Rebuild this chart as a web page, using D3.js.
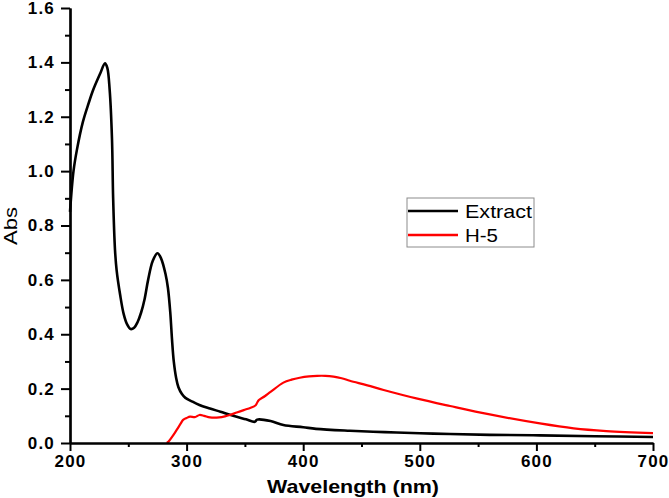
<!DOCTYPE html>
<html>
<head>
<meta charset="utf-8">
<script src="https://cdn.jsdelivr.net/npm/d3@7"></script>
<style>
  body { margin: 0; background: #fff; }
  svg { display: block; }
  text { font-family: "Liberation Sans", Arial, sans-serif; }
</style>
</head>
<body>
<svg id="chart" width="669" height="498"></svg>
<script>
// ---- data ----
const extractWavelength = [200,203,206,211,216,220,226,230,232,234,236,237,238.6,240,243,246,249,252,255,258,261,264,267,271,275,278,282,284,286,287.5,289,291,293,296,299,305,311,320,329,340,351,358.5,360.5,372,383,400,411,440,470,500,526,560,603,650,700];
const extractAbs = [0.85,1.0,1.08,1.18,1.25,1.30,1.36,1.397,1.38,1.30,1.12,0.90,0.71,0.635,0.545,0.475,0.436,0.419,0.424,0.445,0.48,0.53,0.60,0.67,0.698,0.68,0.62,0.57,0.48,0.38,0.30,0.24,0.205,0.18,0.166,0.152,0.14,0.127,0.115,0.10,0.087,0.078,0.086,0.081,0.066,0.058,0.052,0.045,0.040,0.036,0.033,0.030,0.028,0.025,0.022];
const h5Wavelength = [283,284.5,288,291.5,295,297,300,303,307,311,315,320,328,333,337,343,349,355,359,360.5,362,367,372,383,390,397,405,412,419,426,433,440,455,469,497,526,560,603,632,660,700];
const h5Abs = [0,0.005,0.025,0.048,0.072,0.085,0.092,0.097,0.095,0.103,0.10,0.094,0.094,0.098,0.103,0.112,0.121,0.13,0.138,0.148,0.158,0.172,0.188,0.222,0.233,0.240,0.245,0.247,0.247,0.244,0.238,0.229,0.212,0.195,0.164,0.136,0.105,0.072,0.054,0.044,0.036];
const seriesNames = ["Extract", "H-5"];
const seriesColors = ["#000000", "#ff0000"];
const xMajorTicks = [200,300,400,500,600,700];
const xMinorTicks = [250,350,450,550,650];
const yMajorTicks = [0,0.2,0.4,0.6,0.8,1.0,1.2,1.4,1.6];
const yMinorTicks = [0.1,0.3,0.5,0.7,0.9,1.1,1.3,1.5];
const xTitle = "Wavelength (nm)";
const yTitle = "Abs";

// ---- layout ----
const svg = d3.select("#chart");
const plotLeft = 70, plotRight = 653, plotTop = 8, plotBottom = 443;
const x = d3.scaleLinear().domain([200, 700]).range([plotLeft, plotRight]);
const y = d3.scaleLinear().domain([0, 1.6]).range([plotBottom, plotTop]);

const series = [
  extractWavelength.map((w, i) => [w, extractAbs[i]]),
  h5Wavelength.map((w, i) => [w, h5Abs[i]])
];

// curves
const line = d3.line().x(d => x(d[0])).y(d => y(d[1])).curve(d3.curveCatmullRom.alpha(0.5));
svg.selectAll("path.series").data(series).enter().append("path")
  .attr("class", "series")
  .attr("d", line)
  .attr("fill", "none")
  .attr("stroke", (d, i) => seriesColors[i])
  .attr("stroke-width", (d, i) => i === 0 ? 2.6 : 2.2)
  .attr("stroke-linejoin", "round");

// axes
const fmt = d3.format(".1f");
const gx = svg.append("g").attr("transform", `translate(0,${plotBottom})`)
  .call(d3.axisBottom(x).tickValues(xMajorTicks).tickSize(8).tickSizeOuter(0).tickPadding(4).tickFormat(d3.format("d")));
const gxm = svg.append("g").attr("transform", `translate(0,${plotBottom})`)
  .call(d3.axisBottom(x).tickValues(xMinorTicks).tickSize(4).tickSizeOuter(0).tickFormat(""));
const gy = svg.append("g").attr("transform", `translate(${plotLeft},0)`)
  .call(d3.axisLeft(y).tickValues(yMajorTicks).tickSize(9).tickSizeOuter(0).tickPadding(6).tickFormat(fmt));
const gym = svg.append("g").attr("transform", `translate(${plotLeft},0)`)
  .call(d3.axisLeft(y).tickValues(yMinorTicks).tickSize(5).tickSizeOuter(0).tickFormat(""));

[gx, gxm, gy, gym].forEach(g => {
  g.selectAll(".domain").attr("stroke", "#000").attr("stroke-width", 2.2);
  g.selectAll(".tick line").attr("stroke", "#000").attr("stroke-width", 2);
  g.selectAll("text").attr("fill", "#000").style("font-size", "17px")
    .style("font-weight", "bold").style("letter-spacing", "1.2px")
    .style("font-family", "'Liberation Sans', Arial, sans-serif");
});

// axis titles
svg.append("text")
  .attr("x", 353).attr("y", 493)
  .attr("text-anchor", "middle")
  .attr("textLength", 172).attr("lengthAdjust", "spacingAndGlyphs")
  .style("font-size", "19px").style("font-weight", "bold")
  .text(xTitle);

svg.append("text")
  .attr("transform", "translate(17,226) rotate(-90)")
  .attr("text-anchor", "middle")
  .attr("textLength", 38).attr("lengthAdjust", "spacingAndGlyphs")
  .style("font-size", "18px")
  .text(yTitle);

// legend
const lg = svg.append("g");
lg.append("rect").attr("x", 407).attr("y", 198).attr("width", 127).attr("height", 49)
  .attr("fill", "#fff").attr("stroke", "#8c8c8c").attr("stroke-width", 1);
const legendRows = [211, 235];
const legendLens = [67, 33];
seriesNames.forEach((name, i) => {
  lg.append("line").attr("x1", 408).attr("x2", 458)
    .attr("y1", legendRows[i]).attr("y2", legendRows[i])
    .attr("stroke", seriesColors[i]).attr("stroke-width", 2.6);
  lg.append("text").attr("x", 465).attr("y", legendRows[i] + 6.5)
    .attr("textLength", legendLens[i]).attr("lengthAdjust", "spacingAndGlyphs")
    .style("font-size", "19px").text(name);
});
</script>
</body>
</html>
